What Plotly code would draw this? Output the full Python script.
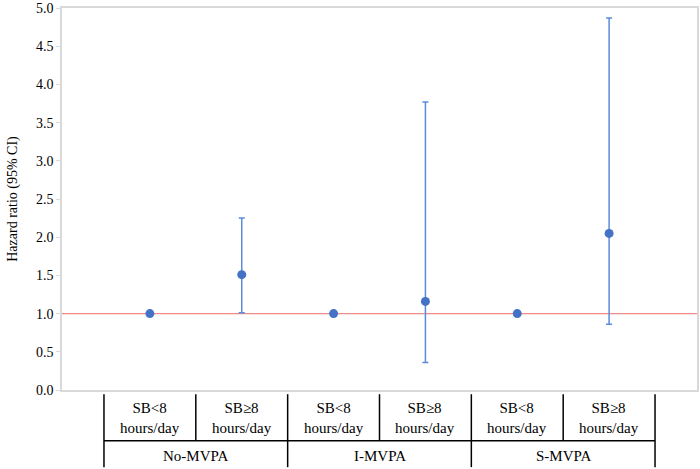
import plotly.graph_objects as go

sub_labels = ["SB<8<br>hours/day", "SB≥8<br>hours/day", "SB<8<br>hours/day",
              "SB≥8<br>hours/day", "SB<8<br>hours/day", "SB≥8<br>hours/day"]
groups = ["No-MVPA", "I-MVPA", "S-MVPA"]
hr = [1.0, 1.51, 1.0, 1.16, 1.0, 2.05]
ci_low = [None, 1.01, None, 0.36, None, 0.86]
ci_high = [None, 2.25, None, 3.77, None, 4.87]
y_ticks = [0.0, 0.5, 1.0, 1.5, 2.0, 2.5, 3.0, 3.5, 4.0, 4.5, 5.0]

FONT = "Liberation Serif, Times New Roman, serif"
xs = list(range(len(hr)))
plus = [(v - h) if v is not None else 0 for v, h in zip(ci_high, hr)]
minus = [(h - v) if v is not None else 0 for v, h in zip(ci_low, hr)]

fig = go.Figure()
fig.add_trace(go.Scatter(
    x=xs, y=hr, mode="markers",
    marker=dict(color="#4472C4", size=9),
    error_y=dict(type="data", symmetric=False, array=plus, arrayminus=minus,
                 color="#5B8BDB", thickness=1.5, width=3),
    showlegend=False, cliponaxis=False,
))

# reference line at HR = 1
fig.add_shape(type="line", xref="paper", yref="y", x0=0, x1=1, y0=1, y1=1,
              line=dict(color="#F08A8A", width=1.2), layer="below")

# category table below axis
y_top, y_mid, y_bot = -0.011, -0.133, -0.202
n = len(hr)
line_style = dict(color="black", width=1.5)
for i in range(n + 1):
    xb = i - 0.5
    full = (i % 2 == 0)
    fig.add_shape(type="line", xref="x", yref="paper", x0=xb, x1=xb,
                  y0=y_top, y1=(y_bot if full else y_mid), line=line_style)
fig.add_shape(type="line", xref="x", yref="paper", x0=-0.5, x1=n - 0.5,
              y0=y_mid, y1=y_mid, line=line_style)
for i, lab in enumerate(sub_labels):
    fig.add_annotation(x=i, y=(y_top + y_mid) / 2, xref="x", yref="paper",
                       text=lab, showarrow=False, yanchor="middle",
                       font=dict(family=FONT, size=15, color="black"))
for g, name in enumerate(groups):
    fig.add_annotation(x=2 * g + 0.5, y=(y_mid + y_bot) / 2 - 0.006, xref="x", yref="paper",
                       text=name, showarrow=False, yanchor="middle",
                       font=dict(family=FONT, size=15, color="black"))

fig.update_layout(
    width=700, height=469,
    margin=dict(l=62, r=3, t=8, b=79),
    paper_bgcolor="white", plot_bgcolor="white",
    font=dict(family=FONT, color="black"),
)
fig.update_xaxes(range=[-0.957, 5.957], showticklabels=False, showgrid=False,
                 zeroline=False, showline=True, linecolor="#D9D9D9", linewidth=1.5,
                 mirror=True, ticks="")
fig.update_yaxes(range=[0, 5], tickvals=y_ticks, ticktext=[f"{v:.1f}" for v in y_ticks],
                 showgrid=False, zeroline=False, showline=True, linecolor="#D9D9D9",
                 linewidth=1.5, mirror=True, ticks="outside", ticklen=4,
                 ticklabeloverflow="allow", automargin=False,
                 tickcolor="#D9D9D9", tickfont=dict(family=FONT, size=14, color="black"),
                 title=dict(text="Hazard ratio (95% CI)", standoff=15,
                            font=dict(family=FONT, size=14, color="black")))

fig.write_html("out.html", config={"displayModeBar": False},
               post_script="document.body.style.margin='0';")
